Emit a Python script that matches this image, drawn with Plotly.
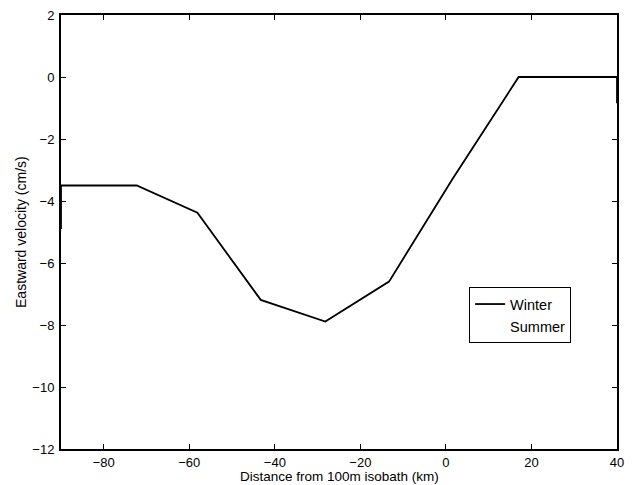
import plotly.graph_objects as go

# Winter eastward velocity profile (cm/s) vs distance from 100 m isobath (km)
winter_x = [-90, -72.3, -58.1, -43.3, -28.2, -13.3, 1.5, 17.0, 40]
winter_y = [-3.5, -3.5, -4.38, -7.19, -7.89, -6.6, -3.3, 0.0, 0.0]

# Summer: only short fragments visible at the plot edges
summer_x = [-90, -90, None, 40, 40]
summer_y = [-3.5, -4.9, None, 0.0, -0.85]

x_ticks = [-80, -60, -40, -20, 0, 20, 40]
y_ticks = [-12, -10, -8, -6, -4, -2, 0, 2]

x_title = "Distance from 100m isobath (km)"
y_title = "Eastward velocity (cm/s)"

FONT = "Liberation Sans, Arial, Helvetica"

fig = go.Figure()
fig.add_trace(go.Scatter(x=winter_x, y=winter_y, mode="lines", name="Winter",
                         line=dict(color="black", width=1.8)))
fig.add_trace(go.Scatter(x=summer_x, y=summer_y, mode="lines", name="Summer",
                         showlegend=False, cliponaxis=False,
                         line=dict(color="black", width=1.8)))
fig.add_trace(go.Scatter(x=[None], y=[None], mode="lines", name="Summer",
                         line=dict(color="rgba(0,0,0,0)", width=1.8)))

axis_common = dict(showline=True, linecolor="black", linewidth=2, mirror="ticks",
                   ticks="inside", ticklen=5, tickwidth=1, tickcolor="black",
                   showgrid=False, zeroline=False, automargin=False,
                   tickfont=dict(family=FONT, size=13, color="black"))

fig.update_xaxes(range=[-90, 40], tickvals=x_ticks, ticklabelstandoff=0, **axis_common)
fig.update_yaxes(range=[-12, 2], tickvals=y_ticks, ticklabelstandoff=2, **axis_common)

fig.add_annotation(text=x_title, xref="paper", yref="paper", x=0.5, y=-0.0835,
                   xanchor="center", yanchor="bottom", showarrow=False, borderpad=0,
                   font=dict(family=FONT, size=13.5, color="black"))
fig.add_annotation(text=y_title, xref="paper", yref="paper", x=-0.072, y=0.5,
                   xanchor="center", yanchor="middle", showarrow=False, textangle=-90,
                   font=dict(family=FONT, size=14, color="black"))

fig.update_layout(
    width=633, height=485,
    margin=dict(l=61, r=16, t=15, b=36),
    paper_bgcolor="white", plot_bgcolor="white",
    showlegend=True,
    legend=dict(x=0.734, y=0.373, xanchor="left", yanchor="top",
                bordercolor="black", borderwidth=1, bgcolor="white",
                font=dict(family=FONT, size=14.5, color="black"),
                entrywidth=108, entrywidthmode="pixels", tracegroupgap=0),
)

fig.write_html("out.html")
